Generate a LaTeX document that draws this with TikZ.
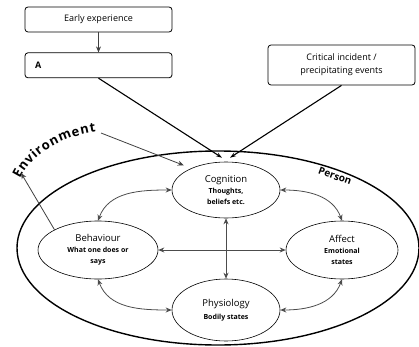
\documentclass[tikz,border=0pt]{standalone}
\usepackage{fontspec}
\setmainfont{Open Sans}
\usepackage{tikz}
\usetikzlibrary{shapes,arrows.meta,positioning,calc,decorations.text}

\newcommand{\subtxt}{\fontsize{7}{9}\selectfont\bfseries}

\begin{document}
\begin{tikzpicture}[
    x=1pt, y=1pt,
    node distance=20pt,
    box/.style={rectangle, draw, thick, rounded corners=3pt, minimum width=147pt, minimum height=25pt, inner sep=2pt, font=\fontsize{9}{13}\selectfont},
    state/.style={ellipse, draw, semithick, inner sep=0pt, align=center, font=\fontsize{9.5}{12}\selectfont},
    arrow/.style={thick, draw=black!75, -{Stealth[length=6pt,width=5pt]}},
    dblarrow/.style={thick, draw=black!70, {Stealth[length=6pt,width=5pt]}-{Stealth[length=6pt,width=5pt]}},
    link/.style={line width=1.1pt, -{Stealth[length=6pt,width=4pt]}}
]
\useasboundingbox (0,0) rectangle (419,346);

% Boxes
\node[box] (early) at (98.5,326.5) {Early experience};
\node[box, below=of early, text width=127pt, inner xsep=10pt, align=left] (abox) {\textbf{A}};
\node[box, minimum height=40pt, align=center] (crit) at (341.5,281) {Critical incident /\\precipitating events};

% Person
\draw[line width=1.4pt] (218,98) ellipse [x radius=201, y radius=97];
\node[font=\bfseries\fontsize{10}{12}\selectfont, rotate=-20] (person) at (335,170) {Person};

% Ellipses
\node[state, minimum width=108pt, minimum height=56pt] (cog) at (226,156)
    {Cognition\\[-1pt]\subtxt Thoughts,\\[-1pt]\subtxt beliefs etc.};
\node[state, minimum width=120pt, minimum height=58pt] (beh) at (98,96)
    {Behaviour\\[-1pt]\subtxt What one does or\\[-1pt]\subtxt says};
\node[state, minimum width=112pt, minimum height=58pt] (aff) at (342,96)
    {Affect\\[-1pt]\subtxt Emotional\\[-1pt]\subtxt states};
\node[state, minimum width=108pt, minimum height=62pt] (phys) at (226,36)
    {Physiology\\[1pt]\subtxt Bodily states};

% Environment
\path[decorate, decoration={text along path, text align=fit to path,
    text={|\bfseries\fontsize{13}{15}\selectfont|Environment}}]
    (20,167) .. controls (31,190) and (58,209) .. (96,214);
\coordinate (envend) at (101,213);
\coordinate (envtip) at (21,173);

% Arrows
\draw[arrow, line width=1.3pt] (early) -- (abox);
\draw[link] (abox.south) -- ([xshift=-4pt,yshift=4pt]cog.north);
\draw[link] (crit.south) -- ([xshift=4pt,yshift=4pt]cog.north);
\draw[arrow, shorten >=8pt] (envend) -- (cog.148);
\draw[arrow] (beh.155) -- (envtip);
\draw[dblarrow] (beh.east) -- (aff.west);
\draw[dblarrow] (cog.south) -- (phys.north);
\draw[dblarrow] (cog.west) to[out=180,in=70] (beh.north);
\draw[dblarrow] (cog.east) to[out=0,in=110] (aff.north);
\draw[dblarrow] (beh.south) to[out=-70,in=180] (phys.west);
\draw[dblarrow] (aff.south) to[out=-110,in=0] (phys.east);

\end{tikzpicture}
\end{document}
